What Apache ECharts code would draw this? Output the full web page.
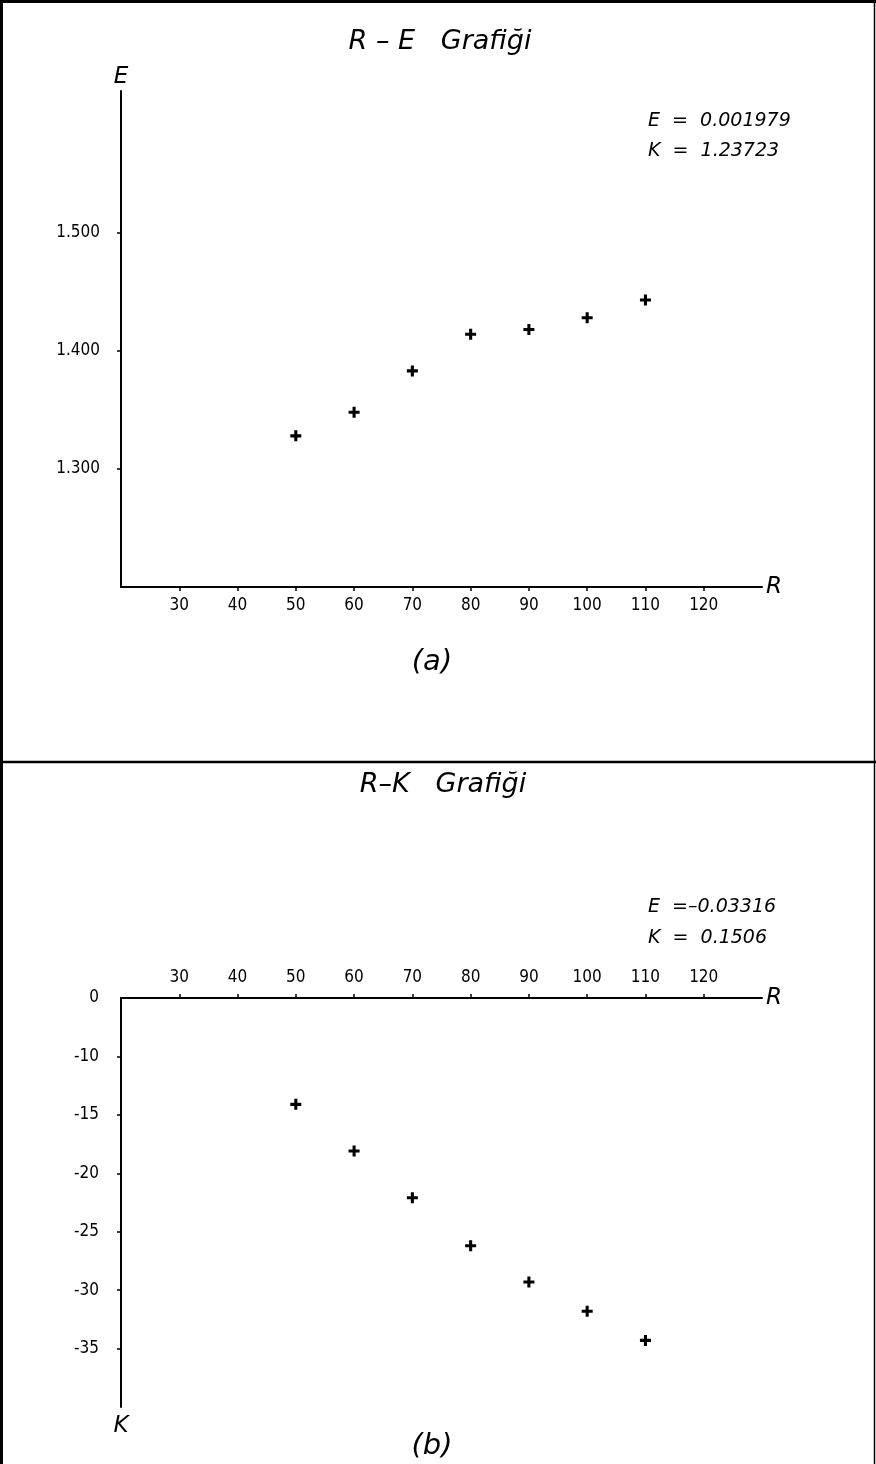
<!DOCTYPE html>
<html>
<head>
<meta charset="utf-8">
<script src="https://cdn.jsdelivr.net/npm/echarts@6/dist/echarts.min.js"></script>
<style>
html,body{margin:0;padding:0;background:#fff;}
#chart{width:876px;height:1464px;}
</style>
</head>
<body>
<div id="chart"></div>
<script>
// ---- data ----
const rValues = [50, 60, 70, 80, 90, 100, 110];
const eValues = [1.328, 1.348, 1.383, 1.414, 1.418, 1.428, 1.443];
const kValues = [-14.1, -18.1, -22.1, -26.2, -29.3, -31.8, -34.3];
const rTicks = [30, 40, 50, 60, 70, 80, 90, 100, 110, 120];
const eTicks = [1.3, 1.4, 1.5];
const kTicks = [-35, -30, -25, -20, -15, -10];
const kOrigin = -5;          // axis origin, labelled "0" on the broken axis
const titleA = 'R – E   Grafiği';
const titleB = 'R–K   Grafiği';
const statsA = ['E  =  0.001979', 'K  =  1.23723'];
const statsB = ['E  =–0.03316', 'K  =  0.1506'];

const tickFont = "'Liberation Sans Narrow','DejaVu Sans Condensed',sans-serif";
const letterFont = "'DejaVu Sans',sans-serif";
const plus = 'path://M3.6,0H6.4V3.6H10V6.4H6.4V10H3.6V6.4H0V3.6H3.6Z';

const chart = echarts.init(document.getElementById('chart'), null, {renderer: 'canvas'});

const axisLine = {show: true, onZero: false, lineStyle: {color: '#000', width: 2}};
const axisName = {fontSize: 23, fontStyle: 'italic', color: '#000', fontFamily: letterFont};
const tickLab = {color: '#000', fontSize: 17, fontFamily: tickFont};

const txt = (x, y, s, size, align) => ({
  type: 'text', x: x, y: y,
  style: {text: s, fontSize: size, fontStyle: 'italic', fontFamily: letterFont,
          fill: '#000', align: align || 'center', verticalAlign: 'middle'}
});

chart.setOption({
  backgroundColor: '#fff',
  animation: false,
  grid: [
    {left: 121, right: 114, top: 91, height: 496},
    {left: 121, right: 114, top: 998, height: 409}
  ],
  xAxis: [
    {
      gridIndex: 0, type: 'value', min: 20, max: 130, interval: 10,
      axisLine: axisLine, splitLine: {show: false},
      axisTick: {show: true, customValues: rTicks, length: 4, inside: false, lineStyle: {color: '#000', width: 1.5}},
      axisLabel: Object.assign({customValues: rTicks, margin: 10}, tickLab),
      name: 'R', nameLocation: 'end', nameGap: 4, nameTextStyle: axisName
    },
    {
      gridIndex: 1, type: 'value', position: 'top', min: 20, max: 130, interval: 10,
      axisLine: axisLine, splitLine: {show: false},
      axisTick: {show: true, customValues: rTicks, length: 4, inside: false, lineStyle: {color: '#000', width: 1.5}},
      axisLabel: Object.assign({customValues: rTicks, margin: 12}, tickLab),
      name: 'R', nameLocation: 'end', nameGap: 4, nameTextStyle: axisName
    }
  ],
  yAxis: [
    {
      gridIndex: 0, type: 'value', min: 1.2, max: 1.62,
      axisLine: axisLine, splitLine: {show: false},
      axisTick: {show: true, customValues: eTicks, length: 4, lineStyle: {color: '#000', width: 1.5}},
      axisLabel: Object.assign({customValues: eTicks, margin: 21, formatter: v => v.toFixed(3)}, tickLab),
      name: 'E', nameLocation: 'end', nameGap: 2, nameTextStyle: axisName
    },
    {
      gridIndex: 1, type: 'value', min: -40, max: kOrigin,
      axisLine: axisLine, splitLine: {show: false},
      axisTick: {show: true, customValues: kTicks, length: 4, lineStyle: {color: '#000', width: 1.5}},
      axisLabel: Object.assign({customValues: kTicks.concat([kOrigin]), margin: 22,
        formatter: v => (v === kOrigin ? '0' : '-' + Math.abs(v))}, tickLab),
      name: 'K', nameLocation: 'start', nameGap: 8, nameTextStyle: axisName
    }
  ],
  series: [
    {
      type: 'scatter', xAxisIndex: 0, yAxisIndex: 0,
      data: rValues.map((r, i) => [r, eValues[i]]),
      symbol: plus, symbolSize: 11, itemStyle: {color: '#000', opacity: 1}
    },
    {
      type: 'scatter', xAxisIndex: 1, yAxisIndex: 1,
      data: rValues.map((r, i) => [r, kValues[i]]),
      symbol: plus, symbolSize: 11, itemStyle: {color: '#000', opacity: 1}
    }
  ],
  graphic: [
    {type: 'line', shape: {x1: 1.5, y1: 0, x2: 1.5, y2: 1464}, style: {stroke: '#000', lineWidth: 3}},
    {type: 'line', shape: {x1: 0, y1: 1.5, x2: 876, y2: 1.5}, style: {stroke: '#000', lineWidth: 3}},
    {type: 'line', shape: {x1: 0, y1: 762, x2: 876, y2: 762}, style: {stroke: '#000', lineWidth: 2.5}},
    {type: 'line', shape: {x1: 874.5, y1: 0, x2: 874.5, y2: 1464}, style: {stroke: '#000', lineWidth: 1.5}},
    txt(440, 42, titleA, 27),
    txt(648, 121, statsA[0], 19, 'left'),
    txt(648, 151, statsA[1], 19, 'left'),
    txt(432, 662, '(a)', 29),
    txt(443, 785, titleB, 27),
    txt(648, 907, statsB[0], 19, 'left'),
    txt(648, 938, statsB[1], 19, 'left'),
    txt(432, 1446, '(b)', 29)
  ]
});
</script>
</body>
</html>
